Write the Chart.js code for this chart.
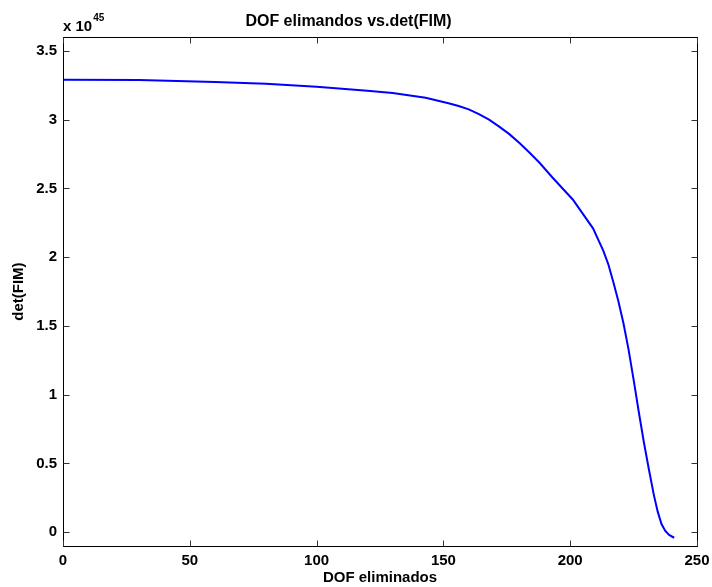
<!DOCTYPE html>
<html>
<head>
<meta charset="utf-8">
<script src="https://cdn.jsdelivr.net/npm/chart.js@4/dist/chart.umd.min.js"></script>
<style>
  html, body { margin: 0; padding: 0; background: #fff; }
  #wrap { width: 712px; height: 587px; }
</style>
</head>
<body>
<div id="wrap"><canvas id="detChart" width="712" height="587"></canvas></div>
<script>
// DOF eliminados (x) y det(FIM) en unidades de 1e45 (y)
const dofEliminados = [0, 30, 60, 80, 100, 120, 130, 143, 152, 156, 160, 164, 168, 172, 176, 180, 184, 188, 193, 201, 209, 211, 213, 215, 217, 219, 221, 223, 225, 227, 229, 231, 233, 234.5, 236, 237.5, 239, 241];
const detFIM = [3.29, 3.288, 3.275, 3.262, 3.24, 3.21, 3.195, 3.16, 3.12, 3.10, 3.075, 3.04, 3.0, 2.95, 2.895, 2.83, 2.76, 2.685, 2.58, 2.42, 2.21, 2.13, 2.05, 1.95, 1.82, 1.68, 1.52, 1.33, 1.11, 0.88, 0.66, 0.46, 0.27, 0.15, 0.06, 0.01, -0.02, -0.04];
const xTicks = [0, 50, 100, 150, 200, 250];
const yTicks = [0, 0.5, 1, 1.5, 2, 2.5, 3, 3.5];

const fuente = 'Helvetica, "Liberation Sans", Arial, sans-serif';

// marco + ticks hacia dentro, estilo matlab
const marcoPlugin = {
    id: 'marco',
    afterDraw(chart) {
        const ctx = chart.ctx;
        const a = chart.chartArea;
        const sx = chart.scales.x, sy = chart.scales.y;
        const L = Math.round(a.left) + 0.5, R = Math.round(a.right) + 0.5;
        const T = Math.round(a.top) + 0.5, B = Math.round(a.bottom) + 0.5;
        ctx.save();
        ctx.strokeStyle = '#000';
        ctx.lineWidth = 1;
        ctx.strokeRect(L, T, R - L, B - T);
        ctx.strokeStyle = '#333';
        ctx.beginPath();
        xTicks.forEach(v => {
            const px = Math.round(sx.getPixelForValue(v)) + 0.5;
            ctx.moveTo(px, B); ctx.lineTo(px, B - 6);
            ctx.moveTo(px, T); ctx.lineTo(px, T + 6);
        });
        yTicks.forEach(v => {
            const py = Math.round(sy.getPixelForValue(v)) + 0.5;
            ctx.moveTo(L, py); ctx.lineTo(L + 6, py);
            ctx.moveTo(R, py); ctx.lineTo(R - 6, py);
        });
        ctx.stroke();

        // factor de escala "x 10^45"
        ctx.fillStyle = '#000';
        ctx.textBaseline = 'alphabetic';
        ctx.textAlign = 'left';
        ctx.font = 'bold 15px ' + fuente;
        ctx.fillText('x 10', a.left, 31);
        const w = ctx.measureText('x 10').width;
        ctx.font = 'bold 10px ' + fuente;
        ctx.fillText('45', a.left + w + 1, 21);
        ctx.restore();
    }
};

new Chart(document.getElementById('detChart').getContext('2d'), {
    type: 'line',
    data: {
        datasets: [{
            label: 'det(FIM)',
            data: dofEliminados.map((x, i) => ({ x: x, y: detFIM[i] })),
            borderColor: '#0000ff',
            borderWidth: 2,
            pointRadius: 0,
            fill: false,
            tension: 0
        }]
    },
    options: {
        responsive: false,
        animation: false,
        layout: { padding: { left: 0, right: 15, top: 0, bottom: 0 } },
        plugins: {
            legend: { display: false },
            tooltip: { enabled: false },
            title: {
                display: true,
                text: 'DOF elimandos vs.det(FIM)',
                color: '#000',
                font: { family: fuente, size: 16, weight: 'bold' },
                padding: { top: 12, bottom: 6 }
            }
        },
        scales: {
            x: {
                type: 'linear',
                min: 0,
                max: 250,
                afterBuildTicks: s => { s.ticks = xTicks.map(v => ({ value: v })); },
                afterFit: s => { s.height = 41; s.paddingLeft = 0; s.paddingRight = 0; },
                grid: { display: false, drawTicks: false },
                border: { display: false },
                ticks: {
                    color: '#000',
                    padding: 6,
                    maxRotation: 0,
                    font: { family: fuente, size: 15, weight: 'bold' }
                },
                title: {
                    display: true,
                    text: 'DOF eliminados',
                    color: '#000',
                    padding: { top: 0, bottom: 0 },
                    font: { family: fuente, size: 15, weight: 'bold' }
                }
            },
            y: {
                type: 'linear',
                min: -0.1,
                max: 3.6,
                afterBuildTicks: s => { s.ticks = yTicks.map(v => ({ value: v })); },
                afterFit: s => { s.width = 63; s.paddingTop = 0; s.paddingBottom = 0; },
                grid: { display: false, drawTicks: false },
                border: { display: false },
                ticks: {
                    color: '#000',
                    padding: 6,
                    callback: v => String(v),
                    font: { family: fuente, size: 15, weight: 'bold' }
                },
                title: {
                    display: true,
                    text: 'det(FIM)',
                    color: '#000',
                    padding: { top: 10, bottom: 0 },
                    font: { family: fuente, size: 15, weight: 'bold' }
                }
            }
        }
    },
    plugins: [marcoPlugin]
});
</script>
</body>
</html>
